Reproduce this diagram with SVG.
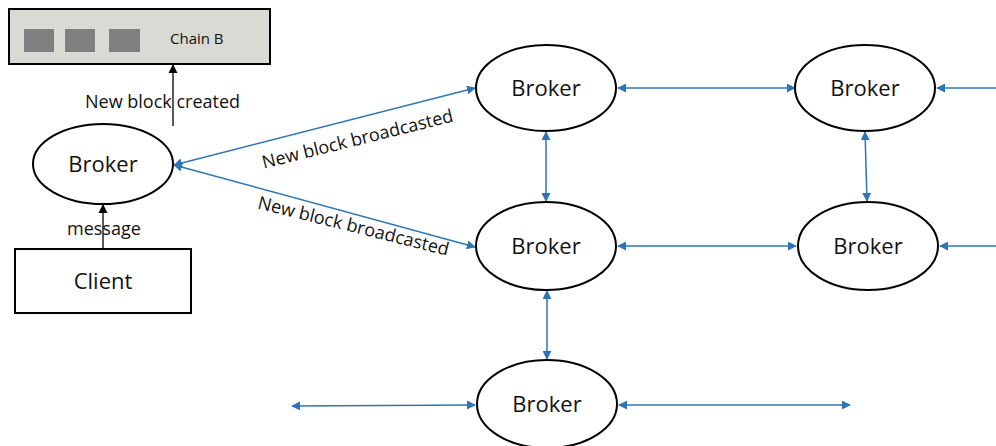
<svg xmlns="http://www.w3.org/2000/svg" width="996" height="446" viewBox="0 0 996 446">
  <defs>
    <style>
      .node { fill: #ffffff; stroke: #000000; stroke-width: 2; }
      .lbl { font-family: "Open Sans", "Liberation Sans", sans-serif; fill: #111111; }
      .big { font-size: 22px; text-anchor: middle; }
      .small { font-size: 18px; }
      .blue { stroke: #2e75b6; stroke-width: 1.5; fill: none; marker-start: url(#bh); marker-end: url(#bh); }
      .black { stroke: #000000; stroke-width: 1.3; fill: none; marker-end: url(#kh); }
    </style>
    <marker id="bh" viewBox="0 0 10 10" refX="9" refY="5" markerWidth="6" markerHeight="6" markerUnits="strokeWidth" orient="auto-start-reverse">
      <path d="M0,0 L10,5 L0,10 z" fill="#2e75b6"/>
    </marker>
    <marker id="kh" viewBox="0 0 10 10" refX="9" refY="5" markerWidth="7" markerHeight="7" markerUnits="strokeWidth" orient="auto">
      <path d="M0,0 L10,5 L0,10 z" fill="#000000"/>
    </marker>
  </defs>

  <!-- chain of blocks -->
  <g id="chain-b">
    <rect x="9" y="9" width="261" height="55" fill="#d9dad4" stroke="#000000" stroke-width="2"/>
    <rect x="24" y="29" width="30" height="23" fill="#7f7f7f"/>
    <rect x="65" y="29" width="30" height="23" fill="#7f7f7f"/>
    <rect x="109" y="29" width="31" height="23" fill="#7f7f7f"/>
    <text class="lbl" x="170" y="44" font-size="15" fill="#333333">Chain B</text>
  </g>

  <!-- connectors -->
  <g id="connectors">
    <line class="black" x1="173" y1="126" x2="173" y2="65"/>
    <line class="black" x1="103" y1="249" x2="103" y2="205"/>
    <line class="blue" x1="174" y1="165" x2="475" y2="88"/>
    <line class="blue" x1="174" y1="165" x2="475" y2="247"/>
    <line class="blue" x1="618" y1="88" x2="795" y2="88"/>
    <line class="blue" x1="618" y1="246" x2="796" y2="246"/>
    <line class="blue" x1="546" y1="132" x2="546" y2="201"/>
    <line class="blue" x1="865" y1="132" x2="867" y2="201"/>
    <line class="blue" x1="547" y1="291" x2="547" y2="359"/>
    <line class="blue" x1="292" y1="406" x2="475" y2="405"/>
    <line class="blue" x1="619" y1="405" x2="850" y2="405"/>
    <line stroke="#2e75b6" stroke-width="1.5" x1="996" y1="88" x2="937" y2="88" marker-end="url(#bh)"/>
    <line stroke="#2e75b6" stroke-width="1.5" x1="996" y1="246" x2="940" y2="246" marker-end="url(#bh)"/>
  </g>

  <!-- connector labels -->
  <g id="labels">
    <text class="lbl small" x="85" y="108">New block created</text>
    <text class="lbl small" x="67" y="235">message</text>
    <text class="lbl small" text-anchor="middle" transform="translate(359,145) rotate(-14)">New block broadcasted</text>
    <text class="lbl small" text-anchor="middle" transform="translate(352,232) rotate(14)">New block broadcasted</text>
  </g>

  <g id="broker-left">
    <ellipse class="node" cx="103" cy="164" rx="70" ry="40"/>
    <text class="lbl big" x="103" y="172">Broker</text>
  </g>

  <g id="client">
    <rect class="node" x="15" y="249" width="176" height="64"/>
    <text class="lbl big" x="103" y="289">Client</text>
  </g>

  <g id="broker-1">
    <ellipse class="node" cx="546" cy="88" rx="70" ry="43"/>
    <text class="lbl big" x="546" y="96">Broker</text>
  </g>

  <g id="broker-2">
    <ellipse class="node" cx="865" cy="88" rx="70" ry="43"/>
    <text class="lbl big" x="865" y="96">Broker</text>
  </g>

  <g id="broker-3">
    <ellipse class="node" cx="546" cy="246" rx="70" ry="44"/>
    <text class="lbl big" x="546" y="254">Broker</text>
  </g>

  <g id="broker-4">
    <ellipse class="node" cx="868" cy="246" rx="70" ry="44"/>
    <text class="lbl big" x="868" y="254">Broker</text>
  </g>

  <g id="broker-5">
    <ellipse class="node" cx="547" cy="404" rx="70" ry="44"/>
    <text class="lbl big" x="547" y="412">Broker</text>
  </g>
</svg>
